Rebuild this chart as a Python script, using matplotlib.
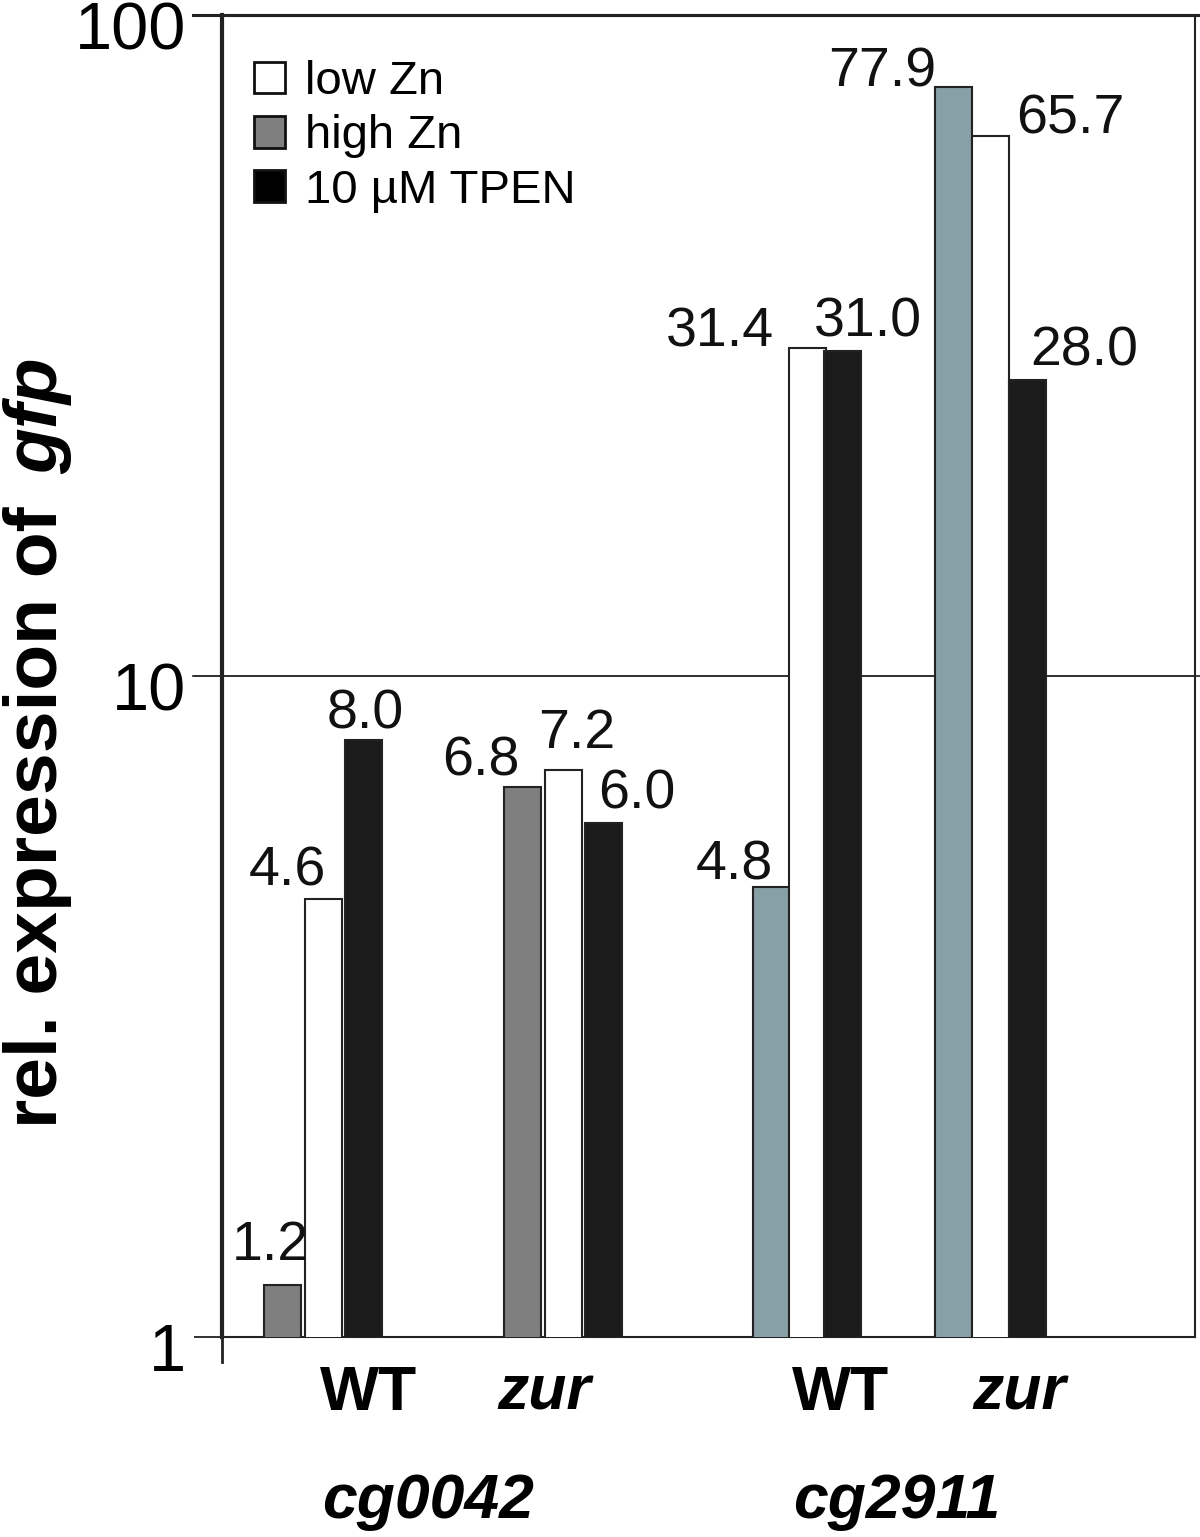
import matplotlib
matplotlib.use("Agg")
import matplotlib.pyplot as plt
from matplotlib.patches import Patch
import matplotlib.transforms as mtransforms
import numpy as np

plt.rcParams['font.family'] = ['Liberation Sans', 'DejaVu Sans']

# data
genes = ['cg0042', 'cg2911']
strains = ['WT', 'zur', 'WT', 'zur']
high_zn = [1.2, 6.8, 4.8, 77.9]
low_zn = [4.6, 7.2, 31.4, 65.7]
tpen = [8.0, 6.0, 31.0, 28.0]
series_names = ['low Zn', 'high Zn', '10 \u00b5M TPEN']

# layout (x in units of one bar width)
group_x = [2.73, 9.22, 15.81, 20.78]
bar_step = [1.1, 1.1, 0.97, 1.0]
bar_w = 1.0
high_colors = ['#7f7f7f', '#7f7f7f', '#87a0a6', '#87a0a6']
black = '#1a1b1a'

# label offsets in pixels from the top centre of each bar
off_high = [(-12, 25), (-42, 11), (-37, 7), (-72, 0)]
off_low = [(-36, 13), (14, 22), (-87, 1), (79, 2)]
off_tpen = [(1, 12), (33, 14), (25, 15), (56, 15)]

fig = plt.figure(figsize=(12, 15.37), dpi=100)
ax = fig.add_axes([0.185, 0.1301, 0.811, 0.8601])
ax.set_yscale('log')
ax.set_ylim(1, 100)
ax.set_xlim(0, 26.3)

gx = np.array(group_x)
step = np.array(bar_step)
ax.bar(gx - step, high_zn, bar_w, color=high_colors, edgecolor='#222222', linewidth=1.5, zorder=3)
ax.bar(gx, low_zn, bar_w, color='white', edgecolor='#222222', linewidth=1.5, zorder=3)
ax.bar(gx + step, tpen, bar_w, color=black, edgecolor='#222222', linewidth=1.5, zorder=3)

for xs, vals, offs in [(gx - step, high_zn, off_high), (gx, low_zn, off_low), (gx + step, tpen, off_tpen)]:
    for x, v, (dx, dy) in zip(xs, vals, offs):
        ax.annotate(f'{v:.1f}', (x, v), xytext=(dx, dy), textcoords='offset pixels',
                    ha='center', va='baseline', fontsize=40, color='#111111')

# axes frame
ax.set_yticks([1, 10, 100])
ax.set_yticklabels(['1', '10', '100'])
ax.yaxis.set_minor_locator(matplotlib.ticker.NullLocator())
ax.tick_params(axis='y', length=20, width=1.3, labelsize=48, pad=6, color='#222222')
shift = mtransforms.ScaledTranslation(0, -10 / 100, fig.dpi_scale_trans)
for lab in ax.get_yticklabels():
    lab.set_transform(lab.get_transform() + shift)
ax.set_xticks([])
for s in ['left', 'top', 'right', 'bottom']:
    ax.spines[s].set_linewidth(1.5)
    ax.spines[s].set_color('#222222')
ax.spines['left'].set_linewidth(3)
ax.spines['top'].set_linewidth(2.2)
ax.axhline(10, color='#333333', lw=1.3, zorder=1)
# extensions beyond the frame
ax.plot([-0.03, 1.005], [1, 1], transform=ax.transAxes, color='#222222', lw=2.2, clip_on=False)
ax.plot([-0.03, 1.005], [0.5, 0.5], transform=ax.transAxes, color='#333333', lw=1.3, clip_on=False)
ax.plot([0, 0], [0, -0.019], transform=ax.transAxes, color='#222222', lw=2, clip_on=False)

# legend
handles = [Patch(facecolor='white', edgecolor='#111111', lw=2),
           Patch(facecolor='#7f7f7f', edgecolor='#111111', lw=2),
           Patch(facecolor='#000000', edgecolor='#111111', lw=2)]
ax.legend(handles, series_names, loc='upper left', bbox_to_anchor=(0.033, 0.966), frameon=False,
          fontsize=34, handlelength=0.66, handleheight=0.66, handletextpad=0.42, labelspacing=0.22,
          borderpad=0, borderaxespad=0)

# strain labels under the groups
blend = mtransforms.blended_transform_factory(ax.transData, fig.transFigure)
strain_dx = [1.22, -0.5, 0.9, 0.75]
for x, name, d in zip(gx, strains, strain_dx):
    style = 'italic' if name == 'zur' else 'normal'
    ax.text(x + d, 1 - 1410 / 1537, name, transform=blend, ha='center', va='baseline',
            fontsize=45, fontweight='bold', style=style)

gene_x = [(gx[0] + gx[1]) / 2 - 0.4, (gx[2] + gx[3]) / 2 - 0.05]
for x, name in zip(gene_x, genes):
    ax.text(x, 1 - 1518 / 1537, name, transform=blend, ha='center', va='baseline',
            fontsize=45, fontweight='bold', style='italic')

# y label
fig.text(57 / 1200, 1 - 1128 / 1537, 'rel. expression of ', rotation=90, rotation_mode='anchor',
         ha='left', va='baseline', fontsize=54, fontweight='bold')
fig.text(57 / 1200, 1 - 357 / 1537, 'gfp', rotation=90, rotation_mode='anchor',
         ha='right', va='baseline', fontsize=54, fontweight='bold', style='italic')

fig.savefig('out.png', dpi=100, facecolor='white')
